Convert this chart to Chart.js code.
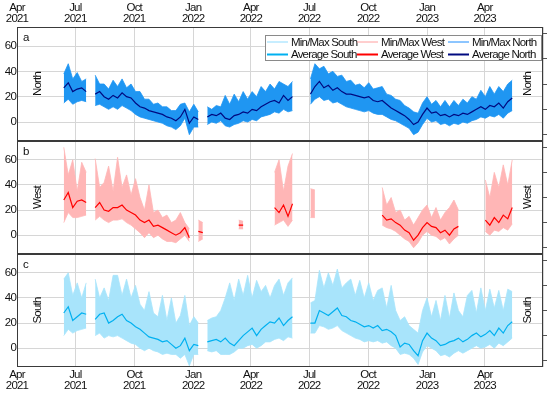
<!DOCTYPE html>
<html>
<head>
<meta charset="utf-8">
<script src="https://cdn.jsdelivr.net/npm/chart.js@4.4.1/dist/chart.umd.min.js"></script>
<style>
  body { margin: 0; background: #fff; }
  #wrap { position: relative; width: 550px; height: 396px; }
  #wrap canvas { position: absolute; left: 0; }
</style>
</head>
<body>
<div id="wrap">
  <canvas id="north" width="550" height="141" style="top:0px"></canvas>
  <canvas id="west" width="550" height="113" style="top:141px"></canvas>
  <canvas id="south" width="550" height="142" style="top:254px"></canvas>
</div>
<script>
// x = days after 1 Apr 2021, one sample a week
const firstDay = 73;   // 12 Jun 2021
const stepDays = 7;
const tickDays = [0, 91, 183, 275, 365, 456, 548, 640, 730, 821];
const tickLabels = ['Apr 2021', 'Jul 2021', 'Oct 2021', 'Jan 2022', 'Apr 2022',
                    'Jul 2022', 'Oct 2022', 'Jan 2023', 'Apr 2023', ''];
const yTicks = [0, 20, 40, 60];
const yMinor = [-10, 0, 10, 20, 30, 40, 50, 60, 70];

// North
const northAvg = [27,31,24,26,27,24,null,22,24,20,
  18,21,19,23,20,19,15,12,11,9,
  8,7,6,4,3,1,4,10,-1,4,
  2,null,4,6,5,7,3,2,5,6,
  8,7,10,9,12,14,16,17,15,21,
  17,20,null,null,null,22,28,32,27,29,
  25,27,24,22,22,21,20,19,20,17,
  16,17,14,11,9,7,5,2,-2,0,
  6,11,7,8,5,6,4,6,5,7,
  6,8,10,12,10,13,12,15,11,16,
  19];
const northMax = [38,46,34,39,32,34,null,37,30,30,
  26,33,28,34,27,30,24,24,18,18,
  14,15,12,12,9,9,14,15,8,14,
  8,null,12,10,13,12,21,14,22,16,
  24,18,24,20,28,24,30,26,32,30,
  28,32,null,null,null,34,46,42,44,38,
  40,36,37,32,33,29,30,27,31,26,
  27,28,22,21,18,17,13,11,8,7,
  15,20,14,17,12,17,12,17,13,18,
  15,20,18,25,20,28,22,28,24,30,
  33];
const northMin = [15,18,14,16,17,16,null,13,14,12,
  10,12,10,13,11,9,6,4,3,2,
  1,0,-1,-3,-4,-6,-3,3,-10,-4,
  -4,null,-2,0,-1,1,-3,-4,-2,-1,
  1,0,2,1,4,5,6,8,7,10,
  8,9,null,null,null,14,18,20,17,18,
  15,16,14,12,11,10,9,8,9,7,
  6,6,4,2,1,-1,-3,-5,-10,-8,
  -2,3,0,1,-2,-1,-3,-1,-2,0,
  -1,1,2,4,3,5,4,6,3,7,
  9];

// West
const westAvg = [28,34,22,27,28,26,null,22,26,20,
  19,22,22,24,20,18,16,12,10,12,
  7,8,6,4,2,0,2,6,-2,null,
  3,2,null,null,null,null,null,null,null,8,
  8,null,null,null,null,null,null,22,18,24,
  15,25,null,null,null,null,null,null,null,null,
  null,null,null,null,null,null,null,null,null,null,
  null,16,12,13,10,8,4,2,-4,0,
  6,10,7,6,2,4,0,5,7,null,
  null,null,null,null,12,8,14,10,16,13,
  22];
const westMax = [70,48,60,35,58,50,null,61,38,42,
  55,35,62,38,48,32,45,30,20,40,
  18,20,14,16,10,12,18,10,5,null,
  12,10,null,null,null,null,null,null,null,12,
  11,null,null,null,null,null,null,50,60,35,
  55,65,null,null,null,37,36,null,null,null,
  null,null,null,null,null,null,null,null,null,null,
  null,38,24,30,18,20,12,15,8,14,
  20,24,14,22,12,18,22,28,20,null,
  null,null,null,null,44,30,50,38,56,40,
  60];
const westMin = [10,18,14,14,15,16,null,12,15,12,
  10,12,12,13,10,8,5,2,-2,2,
  -2,0,-3,-5,-5,-6,-3,0,-5,null,
  -5,-3,null,null,null,null,null,null,null,5,
  5,null,null,null,null,null,null,8,10,12,
  7,12,null,null,null,14,14,null,null,null,
  null,null,null,null,null,null,null,null,null,null,
  null,8,6,5,3,0,-3,-5,-10,-6,
  0,3,0,-1,-4,-2,-7,-3,0,null,
  null,null,null,null,3,0,4,3,6,4,
  9];

// South
const southAvg = [28,33,22,25,28,27,null,23,27,28,
  20,22,25,27,22,20,17,15,12,9,
  8,7,5,6,3,0,2,8,-2,3,
  2,null,5,6,7,5,8,4,2,6,
  10,13,16,10,15,18,21,20,24,18,
  22,25,null,null,null,20,20,30,28,26,
  29,32,26,25,22,21,19,17,18,16,
  18,14,15,13,10,1,4,3,-2,-6,
  6,12,8,6,2,3,5,6,8,5,
  7,10,12,9,11,14,10,16,12,18,
  21];
const southMax = [55,60,42,52,40,52,null,55,40,48,
  38,58,58,42,55,40,50,35,30,45,
  28,25,42,22,40,20,26,42,18,25,
  20,null,22,24,25,30,40,52,38,55,
  42,58,40,54,45,50,40,50,55,42,
  52,56,null,null,null,36,38,62,48,60,
  50,63,48,52,55,42,54,40,52,38,
  46,48,32,50,30,22,25,18,15,12,
  30,40,25,38,22,42,24,44,30,25,
  42,46,28,48,30,47,32,46,30,47,
  45];
const southMin = [10,15,12,14,15,16,null,10,12,8,
  10,9,10,8,6,4,3,0,-2,0,
  -2,-3,-5,-4,-5,-5,-8,-5,-14,-5,
  -5,null,-2,-3,-2,-5,-5,-5,-3,0,
  0,2,3,0,2,5,5,7,8,6,
  9,8,null,null,null,12,12,18,17,15,
  16,18,14,12,10,8,7,5,6,5,
  6,4,5,2,0,-5,-4,-5,-8,-13,
  -3,2,0,-2,-6,-5,-7,-4,-2,-4,
  -2,0,2,0,1,3,0,4,2,5,
  8];

const fam = "'Liberation Sans', Arial, sans-serif";
const tickFont = { family: fam, size: 11.5 };
const gridColor = '#d6d6d6';
const squeeze = '-0.8px';   // the source uses a narrow face

const colors = {
  north: { band: '#1f96f2', edge: '#1a8cff', line: '#000a80' },
  west:  { band: '#ffb6b6', edge: '#ff9e9e', line: '#ff0000' },
  south: { band: '#a8e4fb', edge: '#8fdcff', line: '#00b0f0' }
};

const legendItems = [
  ['Min/Max South', colors.south.edge, 1], ['Min/Max West', colors.west.edge, 1], ['Min/Max North', colors.north.edge, 1],
  ['Average South', colors.south.line, 2], ['Average West', colors.west.line, 2], ['Average North', colors.north.line, 2]
];

function toPts(arr) {
  return arr.map((v, i) => ({ x: firstDay + stepDays * i, y: v }));
}

// narrow text, frame, panel letter, side names, legend box on the top panel
const panelDeco = {
  id: 'panelDeco',
  beforeLayout(chart) { chart.ctx.letterSpacing = squeeze; },
  beforeDraw(chart) { chart.ctx.letterSpacing = squeeze; },
  afterDraw(chart, args, opts) {
    const { ctx, chartArea: a } = chart;
    ctx.save();
    ctx.strokeStyle = '#3a3a3a';
    ctx.lineWidth = 1;
    ctx.strokeRect(a.left + 0.5, a.top + 0.5, a.width - 1, a.height - 1);

    ctx.fillStyle = '#111';
    ctx.font = '11.5px ' + fam;
    ctx.textBaseline = 'middle';
    ctx.textAlign = 'left';
    ctx.fillText(opts.letter, a.left + 6, a.top + 11);
    const mid = (a.top + a.bottom) / 2;
    [a.left + 21, a.right - 15].forEach(x => {
      ctx.save();
      ctx.translate(x, mid);
      ctx.rotate(-Math.PI / 2);
      ctx.textAlign = 'center';
      ctx.fillText(opts.name, 0, 0);
      ctx.restore();
    });

    if (opts.legend) {
      const L = a.right - 278, T = a.top + 8;
      ctx.fillStyle = '#fff';
      ctx.fillRect(L, T, 277, 26);
      ctx.strokeStyle = '#8a8a8a';
      ctx.strokeRect(L + 0.5, T + 0.5, 276, 25);
      const cols = [L + 2, L + 92, L + 183];
      legendItems.forEach((it, k) => {
        const x = cols[k % 3], y = T + 7 + Math.floor(k / 3) * 12.5;
        ctx.strokeStyle = it[1];
        ctx.lineWidth = it[2];
        ctx.beginPath();
        ctx.moveTo(x, y);
        ctx.lineTo(x + 21, y);
        ctx.stroke();
        ctx.fillStyle = '#111';
        ctx.fillText(it[0], x + 24, y + 0.5);
      });
    }
    ctx.restore();
  }
};

function noPad(s) {
  s.paddingTop = 0; s.paddingBottom = 0; s.paddingLeft = 0; s.paddingRight = 0;
}

function panel(id, letter, name, lo, hi, avg, c, xPos, legend) {
  return new Chart(document.getElementById(id), {
    type: 'line',
    data: {
      datasets: [
        { data: toPts(lo), borderColor: c.band, borderWidth: 0.8, fill: false, order: 1 },
        { data: toPts(hi), borderColor: c.band, borderWidth: 0.8, backgroundColor: c.band, fill: '-1', order: 1 },
        { data: toPts(avg), borderColor: c.line, borderWidth: 1.2, fill: false, order: 0 }
      ]
    },
    options: {
      responsive: false,
      animation: false,
      layout: { padding: 0 },
      elements: { point: { radius: 0 }, line: { tension: 0 } },
      plugins: {
        legend: { display: false },
        tooltip: { enabled: false },
        panelDeco: { letter: letter, name: name, legend: legend }
      },
      scales: {
        x: {
          type: 'linear',
          position: xPos === 'top' ? 'top' : 'bottom',
          min: 0, max: 821,
          afterBuildTicks: s => { s.ticks = tickDays.map(v => ({ value: v })); },
          afterFit: s => { s.height = xPos === 'top' ? 27 : xPos === 'bottom' ? 29 : 0; noPad(s); },
          grid: { color: gridColor, drawTicks: false },
          border: { display: false },
          ticks: {
            display: xPos !== 'none',
            autoSkip: false, maxRotation: 0, padding: 2,
            font: { family: fam, size: 11.5, lineHeight: 1.0 }, color: '#111',
            callback: (v, i) => tickLabels[i].split(' ')
          }
        },
        y: {
          min: -15, max: 75,
          afterBuildTicks: s => { s.ticks = yTicks.map(v => ({ value: v })); },
          afterFit: s => { s.width = 17; noPad(s); },
          grid: { color: gridColor, drawTicks: false },
          border: { display: false },
          ticks: { padding: 1, font: tickFont, color: '#111' }
        },
        y2: {
          position: 'right',
          min: -15, max: 75,
          afterBuildTicks: s => { s.ticks = yMinor.map(v => ({ value: v })); },
          afterFit: s => { s.width = 7; noPad(s); },
          grid: { drawOnChartArea: false, tickLength: 4, tickColor: '#555' },
          border: { display: false },
          ticks: { callback: () => '', padding: 0 }
        }
      }
    },
    plugins: [panelDeco]
  });
}

panel('north', 'a', 'North', northMin, northMax, northAvg, colors.north, 'top', true);
panel('west', 'b', 'West', westMin, westMax, westAvg, colors.west, 'none', false);
panel('south', 'c', 'South', southMin, southMax, southAvg, colors.south, 'bottom', false);
</script>
</body>
</html>
